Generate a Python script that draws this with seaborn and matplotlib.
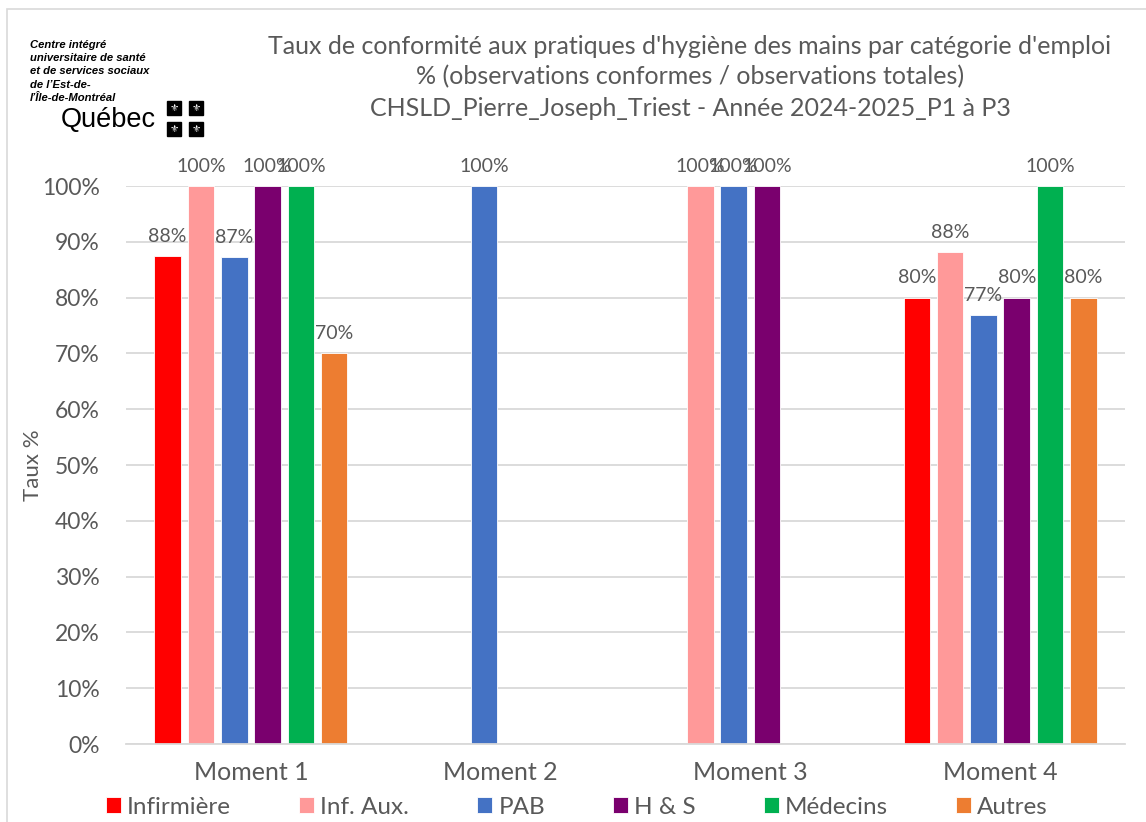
import matplotlib
matplotlib.use("Agg")
import matplotlib.pyplot as plt
import matplotlib.patches as mpatches
import numpy as np
import pandas as pd
import seaborn as sns

# ---- data ----
moments = ["Moment 1", "Moment 2", "Moment 3", "Moment 4"]
categories = ["Infirmière", "Inf. Aux.", "PAB", "H & S", "Médecins", "Autres"]
infirmiere = [87.5, np.nan, np.nan, 80.0]
inf_aux = [100.0, np.nan, 100.0, 88.2]
pab = [87.3, 100.0, 100.0, 76.9]
hs = [100.0, np.nan, 100.0, 80.0]
medecins = [100.0, np.nan, np.nan, 100.0]
autres = [70.0, np.nan, np.nan, 80.0]
colors = ["#FF0000", "#FF9999", "#4472C4", "#7A006E", "#00B050", "#ED7D31"]
title_lines = [
    "Taux de conformité aux pratiques d'hygiène des mains par catégorie d'emploi",
    "% (observations conformes / observations totales)",
    "CHSLD_Pierre_Joseph_Triest - Année 2024-2025_P1 à P3",
]

series = [infirmiere, inf_aux, pab, hs, medecins, autres]
rows = []
for cat, vals in zip(categories, series):
    for m, v in zip(moments, vals):
        rows.append({"Moment": m, "Catégorie": cat, "Taux": v})
df = pd.DataFrame(rows)

sns.set_style("white")
plt.rcParams["font.family"] = ["Lato", "DejaVu Sans"]
GREY = "#595959"

W, H = 1146, 822
fig = plt.figure(figsize=(W / 100, H / 100), dpi=100)
ax = fig.add_axes([126 / W, 1 - 744 / H, (1125 - 126) / W, (744 - 186) / H])

sns.barplot(data=df, x="Moment", y="Taux", hue="Catégorie", order=moments,
            hue_order=categories, palette=colors, width=0.8, gap=0.2,
            dodge=True, ax=ax, legend=True, saturation=1, errorbar=None,
            edgecolor="white", linewidth=0.6)

ax.set_ylim(0, 100)
ax.set_yticks(np.arange(0, 101, 10))
ax.set_yticklabels([f"{v}%" for v in range(0, 101, 10)], fontsize=16.5, color=GREY)
ax.tick_params(axis="y", length=0, pad=19)
ax.tick_params(axis="x", length=0, pad=12, labelsize=18, labelcolor=GREY)
ax.yaxis.grid(True, color="#D9D9D9", linewidth=1.3)
ax.set_axisbelow(True)
for s in ["top", "right", "left"]:
    ax.spines[s].set_visible(False)
ax.spines["bottom"].set_color("#D9D9D9")
ax.spines["bottom"].set_linewidth(1.3)
ax.set_xlabel("")
ax.set_ylabel("")

# data labels
for p in ax.patches:
    h = p.get_height()
    if h is None or np.isnan(h) or p.get_width() == 0:
        continue
    ax.annotate(f"{h:.0f}%", (p.get_x() + p.get_width() / 2, h),
                xytext=(0, 8), textcoords="offset points", ha="center",
                va="bottom", fontsize=14, color=GREY, clip_on=False)

# legend
handles, labels = ax.get_legend_handles_labels()
ax.legend_.remove()
leg = fig.legend(handles, labels, loc="center", ncol=6,
                 bbox_to_anchor=(577 / W, 1 - 807 / H),
                 frameon=False, fontsize=17.5, handlelength=0.62, handleheight=0.62,
                 handletextpad=0.25, columnspacing=2.8, borderaxespad=0,
                 borderpad=0)
for t in leg.get_texts():
    t.set_color(GREY)

# y label
fig.text(33 / W, 1 - 465 / H, "Taux %", rotation=90, ha="center", va="center",
         fontsize=16, color=GREY)

# title
for i, line in enumerate(title_lines):
    fig.text(690 / W, 1 - (46 + 31 * i) / H, line, ha="center", va="center",
             fontsize=18, color=GREY)

# chart frame
fig.patches.append(mpatches.Rectangle((7 / W, -0.1), 1.2, 1 - 9 / H + 0.1,
                                      transform=fig.transFigure, fill=False,
                                      edgecolor="#D9D9D9", linewidth=1.2))

# logo
logo_lines = ["Centre intégré", "universitaire de santé", "et de services sociaux",
              "de l’Est-de-", "l’Île-de-Montréal"]
for i, line in enumerate(logo_lines):
    fig.text(30 / W, 1 - (45 + 13.2 * i) / H, line, ha="left", va="center",
             fontsize=8.1, fontweight="bold", fontstyle="italic", color="black",
             family=["Liberation Sans", "DejaVu Sans"])
fig.text(61 / W, 1 - 127 / H, "Québec", ha="left", va="baseline", fontsize=19.5,
         color="black", family=["Liberation Sans", "DejaVu Sans"])
for (x0, y0) in [(167, 101), (189, 101), (167, 122), (189, 122)]:
    fig.patches.append(mpatches.Rectangle((x0 / W, 1 - (y0 + 14) / H), 14 / W, 14 / H,
                                          transform=fig.transFigure, color="black"))
    fig.text((x0 + 7) / W, 1 - (y0 + 7) / H, "⚜", ha="center", va="center",
             fontsize=7.5, color="white", family=["DejaVu Sans"])

fig.savefig("out.png", dpi=100)
